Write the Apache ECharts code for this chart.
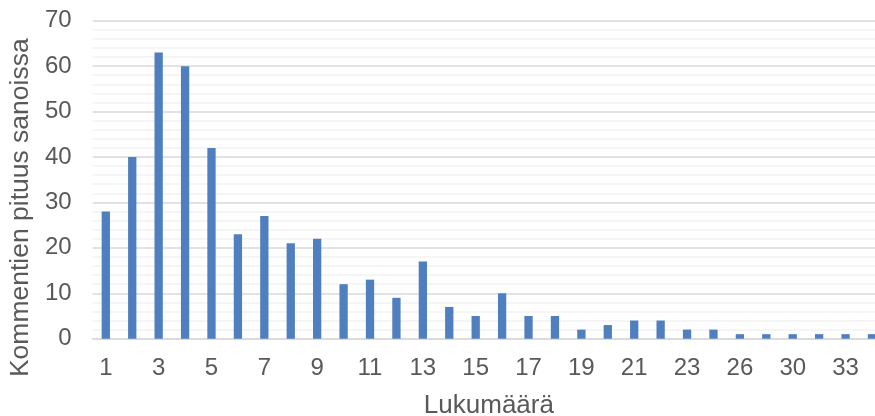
<!DOCTYPE html>
<html>
<head>
<meta charset="utf-8">
<script src="https://cdn.jsdelivr.net/npm/echarts@6/dist/echarts.min.js"></script>
<style>
  html, body { margin: 0; padding: 0; background: #ffffff; overflow: hidden; }
  #chart { width: 875px; height: 416px; }
</style>
</head>
<body>
<div id="chart"></div>
<script>
// Comment length (words) and how many comments had that length
const lengths = ['1','2','3','4','5','6','7','8','9','10','11','12','13','14','15','16','17','18','19','20','21','22','23','25','26','28','30','31','33','35'];
const counts  = [28, 40, 63, 60, 42, 23, 27, 21, 22, 12, 13, 9, 17, 7, 5, 10, 5, 5, 2, 3, 4, 4, 2, 2, 1, 1, 1, 1, 1, 1];

const xTitle = 'Lukumäärä';
const yTitle = 'Kommentien pituus sanoissa';

const textColor = '#595959';
const fontFamily = '"Liberation Sans", Arial, sans-serif';

const chart = echarts.init(document.getElementById('chart'), null, { renderer: 'canvas' });

chart.setOption({
  animation: false,
  backgroundColor: '#ffffff',
  // the plot area runs a little past the right edge of the canvas
  grid: {
    left: 92.6, width: 792.6, top: 20.7, height: 318,
    containLabel: false,
    outerBoundsMode: 'none'
  },
  xAxis: {
    type: 'category',
    data: lengths,
    name: xTitle,
    nameLocation: 'middle',
    nameGap: 54,
    nameTextStyle: { color: textColor, fontSize: 26, fontFamily: fontFamily },
    axisLine: { show: true, lineStyle: { color: '#d9d9d9', width: 1.5 } },
    axisTick: { show: false },
    axisLabel: { interval: 1, color: textColor, fontSize: 24, fontFamily: fontFamily, margin: 18 },
    splitLine: { show: false }
  },
  yAxis: {
    type: 'value',
    min: 0,
    max: 70,
    interval: 10,
    name: yTitle,
    nameLocation: 'middle',
    nameGap: 55,
    nameTextStyle: { color: textColor, fontSize: 26.5, fontFamily: fontFamily, padding: [0, 56, 0, 0] },
    axisLine: { show: false },
    axisTick: { show: false },
    axisLabel: { color: textColor, fontSize: 24, fontFamily: fontFamily, margin: 21 },
    splitLine: { show: true, lineStyle: { color: '#d9d9d9', width: 1.5 } },
    minorTick: { show: false, splitNumber: 5 },
    minorSplitLine: { show: true, lineStyle: { color: '#f2f2f2', width: 1.5 } }
  },
  series: [{
    type: 'bar',
    data: counts,
    barWidth: 8.3,
    itemStyle: { color: '#4f7fbe' }
  }]
});
</script>
</body>
</html>
